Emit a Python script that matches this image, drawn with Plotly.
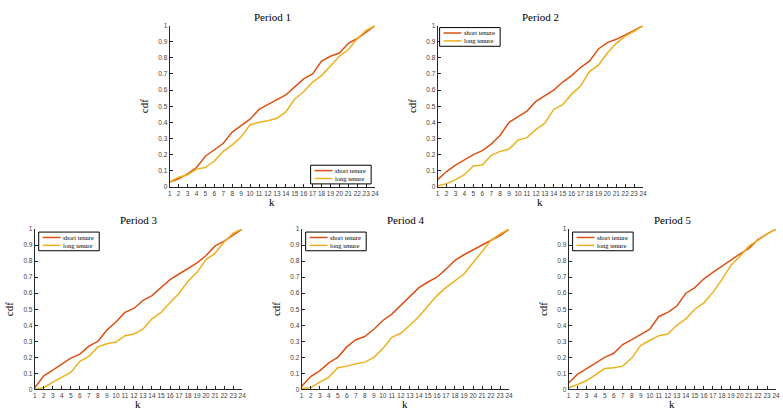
import plotly.graph_objects as go

k = list(range(1, 25))

short_p1 = [0.03, 0.05, 0.08, 0.12, 0.19, 0.23, 0.27, 0.34, 0.38, 0.42, 0.48, 0.51,
            0.54, 0.57, 0.62, 0.67, 0.70, 0.78, 0.81, 0.83, 0.89, 0.92, 0.96, 1.0]
long_p1 = [0.03, 0.06, 0.075, 0.11, 0.12, 0.16, 0.22, 0.26, 0.31, 0.385, 0.40, 0.41,
           0.425, 0.465, 0.545, 0.59, 0.65, 0.69, 0.75, 0.81, 0.85, 0.92, 0.97, 1.0]

short_p2 = [0.045, 0.095, 0.135, 0.17, 0.20, 0.225, 0.265, 0.32, 0.40, 0.435, 0.47, 0.53,
            0.565, 0.60, 0.65, 0.69, 0.74, 0.78, 0.855, 0.895, 0.915, 0.94, 0.97, 1.0]
long_p2 = [0.005, 0.02, 0.045, 0.075, 0.13, 0.135, 0.195, 0.22, 0.235, 0.29, 0.305, 0.355,
           0.395, 0.48, 0.51, 0.575, 0.625, 0.715, 0.755, 0.83, 0.89, 0.935, 0.965, 1.0]

short_p3 = [0.01, 0.085, 0.12, 0.16, 0.195, 0.22, 0.27, 0.30, 0.37, 0.42, 0.48, 0.505,
            0.555, 0.585, 0.635, 0.685, 0.72, 0.755, 0.79, 0.835, 0.895, 0.925, 0.965, 1.0]
long_p3 = [0.0, 0.01, 0.045, 0.075, 0.105, 0.175, 0.205, 0.265, 0.285, 0.295, 0.335, 0.345,
           0.375, 0.44, 0.48, 0.54, 0.60, 0.675, 0.73, 0.81, 0.85, 0.92, 0.975, 1.0]

short_p4 = [0.02, 0.08, 0.115, 0.165, 0.20, 0.265, 0.31, 0.33, 0.375, 0.43, 0.47, 0.525,
            0.58, 0.635, 0.67, 0.70, 0.75, 0.805, 0.84, 0.87, 0.90, 0.93, 0.96, 1.0]
long_p4 = [0.005, 0.01, 0.045, 0.075, 0.135, 0.145, 0.16, 0.17, 0.20, 0.255, 0.325, 0.35,
           0.40, 0.455, 0.52, 0.585, 0.635, 0.675, 0.72, 0.79, 0.86, 0.93, 0.97, 1.0]

short_p5 = [0.04, 0.095, 0.13, 0.165, 0.20, 0.225, 0.28, 0.31, 0.345, 0.375, 0.455, 0.48,
            0.52, 0.60, 0.635, 0.69, 0.73, 0.77, 0.805, 0.845, 0.88, 0.935, 0.97, 1.0]
long_p5 = [0.01, 0.03, 0.055, 0.09, 0.13, 0.135, 0.145, 0.195, 0.275, 0.305, 0.335, 0.345,
           0.40, 0.44, 0.50, 0.54, 0.605, 0.685, 0.775, 0.83, 0.895, 0.93, 0.97, 1.0]

titles = ["Period 1", "Period 2", "Period 3", "Period 4", "Period 5"]
series_names = ["short tenure", "long tenure"]
short_all = [short_p1, short_p2, short_p3, short_p4, short_p5]
long_all = [long_p1, long_p2, long_p3, long_p4, long_p5]

y_ticks = [0, 0.1, 0.2, 0.3, 0.4, 0.5, 0.6, 0.7, 0.8, 0.9, 1]
y_ticktext = ["0", "0.1", "0.2", "0.3", "0.4", "0.5", "0.6", "0.7", "0.8", "0.9", "1"]

W, H = 783, 413
# pixel boxes (left, right, top, bottom)
boxes = [(169, 376, 22, 186), (439, 646, 22, 186),
         (33, 242, 229, 392), (302, 511, 229, 392), (571, 780, 229, 392)]
# legend boxes (left, top) in pixels, size 61x19
legend_boxes = [(311, 164), (441, 24), (37, 232), (306, 232), (575, 232)]
LW, LH = 61, 19

C_SHORT = "#D95319"
C_LONG = "#EDB120"
AX = "#262626"
SERIF = "Liberation Serif, DejaVu Serif, serif"
SANS = "Liberation Sans, Arial, sans-serif"


def px(x):
    return x / W


def py(y):
    return 1 - y / H


fig = go.Figure()
layout = dict(
    width=W, height=H, margin=dict(l=0, r=0, t=0, b=0),
    paper_bgcolor="white", plot_bgcolor="white", showlegend=False,
)
annotations = []
shapes = []
colors = [C_SHORT, C_LONG]
for i in range(5):
    n = i + 1
    xs = "x" if n == 1 else f"x{n}"
    ys = "y" if n == 1 else f"y{n}"
    fig.add_trace(go.Scatter(x=k, y=short_all[i], mode="lines", name=series_names[0],
                             line=dict(color=C_SHORT, width=1.5), xaxis=xs, yaxis=ys))
    fig.add_trace(go.Scatter(x=k, y=long_all[i], mode="lines", name=series_names[1],
                             line=dict(color=C_LONG, width=1.5), xaxis=xs, yaxis=ys))
    l, r, t, b = boxes[i]
    xa = "xaxis" if n == 1 else f"xaxis{n}"
    ya = "yaxis" if n == 1 else f"yaxis{n}"
    layout[xa] = dict(domain=[px(l), px(r)], range=[1, 24], anchor=ys,
                      tickvals=k, ticktext=[str(v) for v in k], tickangle=0,
                      ticks="inside", ticklen=3, tickcolor=AX, tickwidth=1,
                      showline=True, linecolor=AX, linewidth=1, showgrid=False, zeroline=False,
                      tickfont=dict(family=SANS, size=6.5, color="#404040"), fixedrange=True)
    layout[ya] = dict(domain=[py(b), py(t)], range=[0, 1], anchor=xs,
                      tickvals=y_ticks, ticktext=y_ticktext,
                      ticks="inside", ticklen=3, tickcolor=AX, tickwidth=1,
                      showline=True, linecolor=AX, linewidth=1, showgrid=False, zeroline=False,
                      tickfont=dict(family=SANS, size=6.5, color="#404040"), fixedrange=True)
    cx = px((l + r) / 2)
    annotations.append(dict(text=titles[i], x=cx, y=py(t - 9), xref="paper", yref="paper",
                            showarrow=False, font=dict(family=SERIF, size=11, color="#000000"),
                            xanchor="center", yanchor="middle"))
    annotations.append(dict(text="k", x=cx, y=py(b + 15), xref="paper", yref="paper",
                            showarrow=False, font=dict(family=SERIF, size=11, color="#000000"),
                            xanchor="center", yanchor="middle"))
    annotations.append(dict(text="cdf", x=px(l - 26), y=py((t + b) / 2), xref="paper",
                            yref="paper", showarrow=False, textangle=-90,
                            font=dict(family=SERIF, size=11, color="#000000"),
                            xanchor="center", yanchor="middle"))
    # legend box
    bl, bt = legend_boxes[i]
    shapes.append(dict(type="rect", xref="paper", yref="paper",
                       x0=px(bl), x1=px(bl + LW), y0=py(bt + LH), y1=py(bt),
                       line=dict(color="#000000", width=1), fillcolor="white", layer="above"))
    for j in range(2):
        yy = bt + 5.5 + j * 8
        shapes.append(dict(type="line", xref="paper", yref="paper",
                           x0=px(bl + 4), x1=px(bl + 22), y0=py(yy), y1=py(yy),
                           line=dict(color=colors[j], width=1.5), layer="above"))
        annotations.append(dict(text=series_names[j], x=px(bl + 22.5), y=py(yy),
                                xref="paper", yref="paper", showarrow=False,
                                xanchor="left", yanchor="middle",
                                font=dict(family=SERIF, size=6.5, color="#000000")))
layout["annotations"] = annotations
layout["shapes"] = shapes
fig.update_layout(**layout)
fig.write_html("out.html")
